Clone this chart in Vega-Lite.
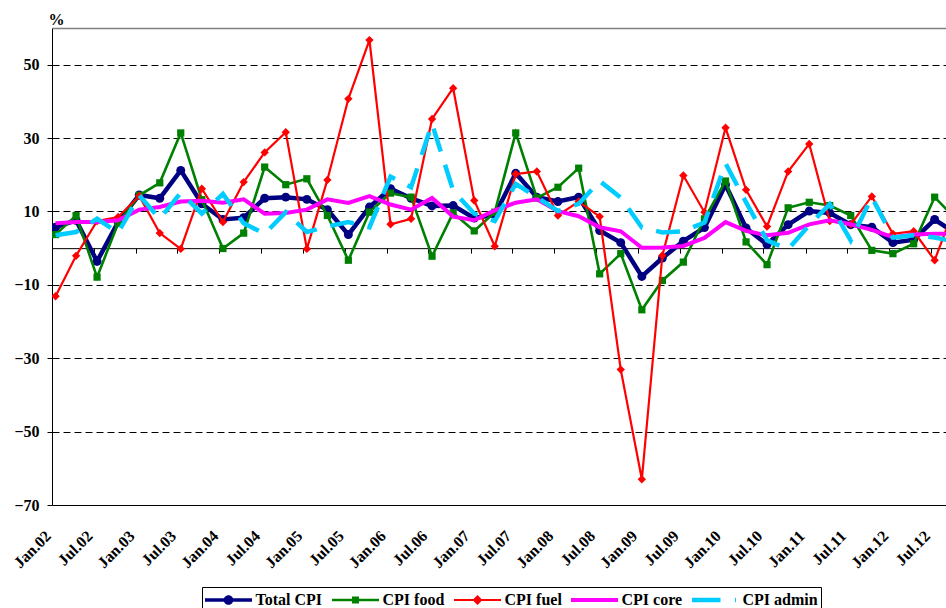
{
  "$schema": "https://vega.github.io/schema/vega-lite/v6.json",
  "width": 894,
  "height": 477,
  "autosize": {"type": "none"},
  "padding": {"left": 52, "top": 28, "right": 0, "bottom": 103},
  "background": "white",
  "config": {"view": {"stroke": null}, "font": "'Liberation Serif', 'Times New Roman', serif"},
  "data": {
    "values": [
      {"date": "2002-01-01", "Total CPI": 5.7, "CPI food": 3.7, "CPI fuel": -13.1, "CPI core": 6.8, "CPI admin": 3.5},
      {"date": "2002-04-01", "Total CPI": 7.6, "CPI food": 8.9, "CPI fuel": -2.1, "CPI core": 7.1, "CPI admin": 4.4},
      {"date": "2002-07-01", "Total CPI": -3.6, "CPI food": -7.9, "CPI fuel": 7.4, "CPI core": 7.1, "CPI admin": 8.0},
      {"date": "2002-10-01", "Total CPI": 7.1, "CPI food": 6.8, "CPI fuel": 8.5, "CPI core": 7.6, "CPI admin": 4.2},
      {"date": "2003-01-01", "Total CPI": 14.5, "CPI food": 14.4, "CPI fuel": 14.2, "CPI core": 10.5, "CPI admin": 14.4},
      {"date": "2003-04-01", "Total CPI": 13.6, "CPI food": 17.8, "CPI fuel": 4.1, "CPI core": 11.2, "CPI admin": 8.0},
      {"date": "2003-07-01", "Total CPI": 21.2, "CPI food": 31.4, "CPI fuel": -0.2, "CPI core": 12.7, "CPI admin": 15.1},
      {"date": "2003-10-01", "Total CPI": 12.1, "CPI food": 13.2, "CPI fuel": 16.2, "CPI core": 12.9, "CPI admin": 9.4},
      {"date": "2004-01-01", "Total CPI": 7.8, "CPI food": -0.1, "CPI fuel": 7.1, "CPI core": 12.4, "CPI admin": 14.8},
      {"date": "2004-04-01", "Total CPI": 8.3, "CPI food": 4.1, "CPI fuel": 18.0, "CPI core": 13.3, "CPI admin": 6.8},
      {"date": "2004-07-01", "Total CPI": 13.6, "CPI food": 22.1, "CPI fuel": 26.1, "CPI core": 9.4, "CPI admin": 3.9},
      {"date": "2004-10-01", "Total CPI": 13.9, "CPI food": 17.3, "CPI fuel": 31.6, "CPI core": 9.6, "CPI admin": 9.8},
      {"date": "2005-01-01", "Total CPI": 13.3, "CPI food": 18.9, "CPI fuel": -0.2, "CPI core": 10.5, "CPI admin": 4.4},
      {"date": "2005-04-01", "Total CPI": 10.5, "CPI food": 8.9, "CPI fuel": 18.6, "CPI core": 13.3, "CPI admin": 5.9},
      {"date": "2005-07-01", "Total CPI": 3.7, "CPI food": -3.3, "CPI fuel": 40.7, "CPI core": 12.3, "CPI admin": 7.1},
      {"date": "2005-10-01", "Total CPI": 11.2, "CPI food": 9.8, "CPI fuel": 56.7, "CPI core": 14.2, "CPI admin": 5.7},
      {"date": "2006-01-01", "Total CPI": 16.2, "CPI food": 15.0, "CPI fuel": 6.5, "CPI core": 11.9, "CPI admin": 19.5},
      {"date": "2006-04-01", "Total CPI": 13.6, "CPI food": 13.9, "CPI fuel": 8.0, "CPI core": 10.5, "CPI admin": 16.6},
      {"date": "2006-07-01", "Total CPI": 11.5, "CPI food": -2.2, "CPI fuel": 35.2, "CPI core": 13.7, "CPI admin": 33.9},
      {"date": "2006-10-01", "Total CPI": 11.6, "CPI food": 9.6, "CPI fuel": 43.6, "CPI core": 8.6, "CPI admin": 15.7},
      {"date": "2007-01-01", "Total CPI": 8.2, "CPI food": 4.7, "CPI fuel": 13.0, "CPI core": 7.6, "CPI admin": 9.4},
      {"date": "2007-04-01", "Total CPI": 9.1, "CPI food": 9.8, "CPI fuel": 0.5, "CPI core": 10.3, "CPI admin": 7.4},
      {"date": "2007-07-01", "Total CPI": 20.4, "CPI food": 31.4, "CPI fuel": 20.2, "CPI core": 12.4, "CPI admin": 17.5},
      {"date": "2007-10-01", "Total CPI": 13.9, "CPI food": 13.7, "CPI fuel": 20.9, "CPI core": 13.3, "CPI admin": 13.9},
      {"date": "2008-01-01", "Total CPI": 12.7, "CPI food": 16.6, "CPI fuel": 8.9, "CPI core": 10.1, "CPI admin": 10.1},
      {"date": "2008-04-01", "Total CPI": 13.9, "CPI food": 21.8, "CPI fuel": 12.7, "CPI core": 8.7, "CPI admin": 12.1},
      {"date": "2008-07-01", "Total CPI": 4.8, "CPI food": -7.0, "CPI fuel": 8.6, "CPI core": 5.7, "CPI admin": 18.3},
      {"date": "2008-10-01", "Total CPI": 1.5, "CPI food": -1.5, "CPI fuel": -33.1, "CPI core": 4.6, "CPI admin": 13.8},
      {"date": "2009-01-01", "Total CPI": -7.7, "CPI food": -16.8, "CPI fuel": -63.0, "CPI core": 0.1, "CPI admin": 5.6},
      {"date": "2009-04-01", "Total CPI": -2.7, "CPI food": -8.8, "CPI fuel": -2.0, "CPI core": 0.2, "CPI admin": 4.3},
      {"date": "2009-07-01", "Total CPI": 1.9, "CPI food": -3.8, "CPI fuel": 19.8, "CPI core": 0.6, "CPI admin": 4.6},
      {"date": "2009-10-01", "Total CPI": 5.6, "CPI food": 8.0, "CPI fuel": 9.8, "CPI core": 2.8, "CPI admin": 7.0},
      {"date": "2010-01-01", "Total CPI": 17.3, "CPI food": 18.3, "CPI fuel": 32.8, "CPI core": 7.1, "CPI admin": 23.1},
      {"date": "2010-04-01", "Total CPI": 5.5, "CPI food": 1.7, "CPI fuel": 15.9, "CPI core": 4.7, "CPI admin": 12.5},
      {"date": "2010-07-01", "Total CPI": 1.0, "CPI food": -4.5, "CPI fuel": 5.9, "CPI core": 3.5, "CPI admin": 2.1},
      {"date": "2010-10-01", "Total CPI": 6.4, "CPI food": 11.0, "CPI fuel": 20.9, "CPI core": 4.2, "CPI admin": -0.3},
      {"date": "2011-01-01", "Total CPI": 10.1, "CPI food": 12.5, "CPI fuel": 28.4, "CPI core": 6.5, "CPI admin": 6.3},
      {"date": "2011-04-01", "Total CPI": 9.6, "CPI food": 11.6, "CPI fuel": 7.4, "CPI core": 7.6, "CPI admin": 12.0},
      {"date": "2011-07-01", "Total CPI": 6.4, "CPI food": 8.9, "CPI fuel": 6.5, "CPI core": 6.5, "CPI admin": 2.1},
      {"date": "2011-10-01", "Total CPI": 5.7, "CPI food": -0.6, "CPI fuel": 14.1, "CPI core": 5.0, "CPI admin": 13.9},
      {"date": "2012-01-01", "Total CPI": 1.5, "CPI food": -1.5, "CPI fuel": 3.9, "CPI core": 3.0, "CPI admin": 2.9},
      {"date": "2012-04-01", "Total CPI": 2.3, "CPI food": 1.2, "CPI fuel": 4.6, "CPI core": 3.7, "CPI admin": 3.5},
      {"date": "2012-07-01", "Total CPI": 7.8, "CPI food": 13.9, "CPI fuel": -3.3, "CPI core": 3.9, "CPI admin": 2.9},
      {"date": "2012-10-01", "Total CPI": 4.0, "CPI food": 8.0, "CPI fuel": 12.0, "CPI core": 4.0, "CPI admin": 1.8}
    ]
  },
  "transform": [
    {"fold": ["Total CPI", "CPI food", "CPI fuel", "CPI core", "CPI admin"], "as": ["series", "value"]}
  ],
  "encoding": {
    "x": {
      "field": "date",
      "timeUnit": "utcyearmonth",
      "type": "temporal",
      "bandPosition": 0.5,
      "scale": {"domain": [{"year": 2002, "month": 1, "date": 1, "utc": true}, {"year": 2012, "month": 9, "date": 4, "utc": true}]},
      "axis": {
        "title": null,
        "orient": "bottom",
        "offset": -256.85,
        "tickCount": {"interval": "month", "step": 6},
        "labelExpr": "utcFormat(datum.value, '%b.%y')",
        "labelAngle": -45,
        "labelAlign": "right",
        "labelBaseline": "middle",
        "labelPadding": 280,
        "labelOffset": -4,
        "labelFont": "'Liberation Serif', 'Times New Roman', serif",
        "labelFontWeight": "bold",
        "labelFontSize": 16,
        "labelColor": "black",
        "labelOverlap": false,
        "labelFlush": false,
        "labelBound": false,
        "domainColor": "black",
        "domainWidth": 1,
        "tickColor": "black",
        "tickSize": 5,
        "tickWidth": 1,
        "grid": false
      }
    },
    "y": {
      "field": "value",
      "type": "quantitative",
      "scale": {"domain": [-70, 60], "nice": false, "zero": false},
      "axis": {
        "title": "%",
        "titleAngle": 0,
        "titleX": -4,
        "titleY": -3.5,
        "titleAlign": "left",
        "titleBaseline": "alphabetic",
        "titleFont": "'Liberation Serif', 'Times New Roman', serif",
        "titleFontWeight": "bold",
        "titleFontSize": 16,
        "titleColor": "black",
        "values": [-70, -50, -30, -10, 10, 30, 50, 60],
        "labelExpr": "datum.value === 60 ? '' : datum.label",
        "labelFont": "'Liberation Serif', 'Times New Roman', serif",
        "labelFontWeight": "bold",
        "labelFontSize": 16,
        "labelColor": "black",
        "labelPadding": 8,
        "labelFlush": false,
        "labelOverlap": false,
        "domainColor": "black",
        "domainWidth": 1,
        "tickColor": "black",
        "tickSize": 5,
        "tickOpacity": {"condition": {"test": "datum.value === 60", "value": 0}, "value": 1},
        "grid": true,
        "gridColor": {"condition": {"test": "datum.value === 60", "value": "#808080"}, "value": "black"},
        "gridDash": {"condition": {"test": "datum.value === 60 || datum.value === -70", "value": []}, "value": [7, 4]},
        "gridWidth": {"condition": {"test": "datum.value === 60", "value": 1.5}, "value": 1},
        "gridOpacity": 1
      }
    }
  },
  "layer": [
    {"transform": [{"filter": "datum.series === 'Total CPI'"}], "mark": {"type": "line", "color": "#000080", "strokeWidth": 4.5, "clip": true}},
    {"transform": [{"filter": "datum.series === 'Total CPI'"}], "mark": {"type": "point", "shape": "circle", "filled": true, "color": "#000080", "size": 80, "opacity": 1, "strokeWidth": 0, "clip": true}},
    {"transform": [{"filter": "datum.series === 'CPI food'"}], "mark": {"type": "line", "color": "#008000", "strokeWidth": 2.6, "clip": true}},
    {"transform": [{"filter": "datum.series === 'CPI food'"}], "mark": {"type": "point", "shape": "square", "filled": true, "color": "#008000", "size": 52, "opacity": 1, "strokeWidth": 0, "clip": true}},
    {"transform": [{"filter": "datum.series === 'CPI fuel'"}], "mark": {"type": "line", "color": "#FF0000", "strokeWidth": 2.2, "clip": true}},
    {"transform": [{"filter": "datum.series === 'CPI fuel'"}], "mark": {"type": "point", "shape": "diamond", "filled": true, "color": "#FF0000", "size": 70, "opacity": 1, "strokeWidth": 0, "clip": true}},
    {"transform": [{"filter": "datum.series === 'CPI core'"}], "mark": {"type": "line", "color": "#FF00FF", "strokeWidth": 4, "clip": true}},
    {"transform": [{"filter": "datum.series === 'CPI admin'"}], "mark": {"type": "line", "color": "#00CCFF", "strokeWidth": 4.5, "strokeDash": [24, 14], "strokeCap": "butt", "clip": true}},
    {
      "transform": [{"filter": "false"}],
      "mark": {"type": "point", "filled": true, "opacity": 1, "strokeWidth": 0, "clip": true},
      "encoding": {
        "color": {
          "field": "series",
          "type": "nominal",
          "scale": {"domain": ["Total CPI", "CPI food", "CPI fuel", "CPI core", "CPI admin"], "range": ["#000080", "#008000", "#FF0000", "#FF00FF", "#00CCFF"]},
          "legend": {
            "title": null,
            "orient": "none",
            "legendX": 150,
            "legendY": 559,
            "direction": "horizontal",
            "symbolSize": 400,
            "symbolOffset": 13.5,
            "symbolOpacity": 1,
            "symbolStrokeWidth": 0,
            "labelOffset": 17,
            "labelFont": "'Liberation Serif', 'Times New Roman', serif",
            "labelFontWeight": "bold",
            "labelFontSize": 16,
            "labelColor": "black",
            "columnPadding": 9,
            "padding": 3,
            "strokeColor": "black",
            "fillColor": "white"
          }
        },
        "shape": {
          "field": "series",
          "type": "nominal",
          "scale": {
            "domain": ["Total CPI", "CPI food", "CPI fuel", "CPI core", "CPI admin"],
            "range": [
              "M-2.35,-0.17H2.35V0.17H-2.35Z M0.48,0A0.48,0.48,0,1,1,-0.48,0A0.48,0.48,0,1,1,0.48,0Z",
              "M-2.35,-0.13H2.35V0.13H-2.35Z M-0.35,-0.35H0.35V0.35H-0.35Z",
              "M-2.35,-0.1H2.35V0.1H-2.35Z M0,-0.5L0.5,0L0,0.5L-0.5,0Z",
              "M-2.35,-0.2H2.35V0.2H-2.35Z",
              "M-2.35,-0.22H0.5V0.22H-2.35Z M1.95,-0.22H2.05V0.22H1.95Z"
            ]
          },
          "legend": {
            "title": null,
            "orient": "none",
            "legendX": 150,
            "legendY": 559,
            "direction": "horizontal",
            "symbolSize": 400,
            "symbolOffset": 13.5,
            "symbolOpacity": 1,
            "symbolStrokeWidth": 0,
            "labelOffset": 17,
            "labelFont": "'Liberation Serif', 'Times New Roman', serif",
            "labelFontWeight": "bold",
            "labelFontSize": 16,
            "labelColor": "black",
            "columnPadding": 9,
            "padding": 3,
            "strokeColor": "black",
            "fillColor": "white"
          }
        }
      }
    }
  ]
}
